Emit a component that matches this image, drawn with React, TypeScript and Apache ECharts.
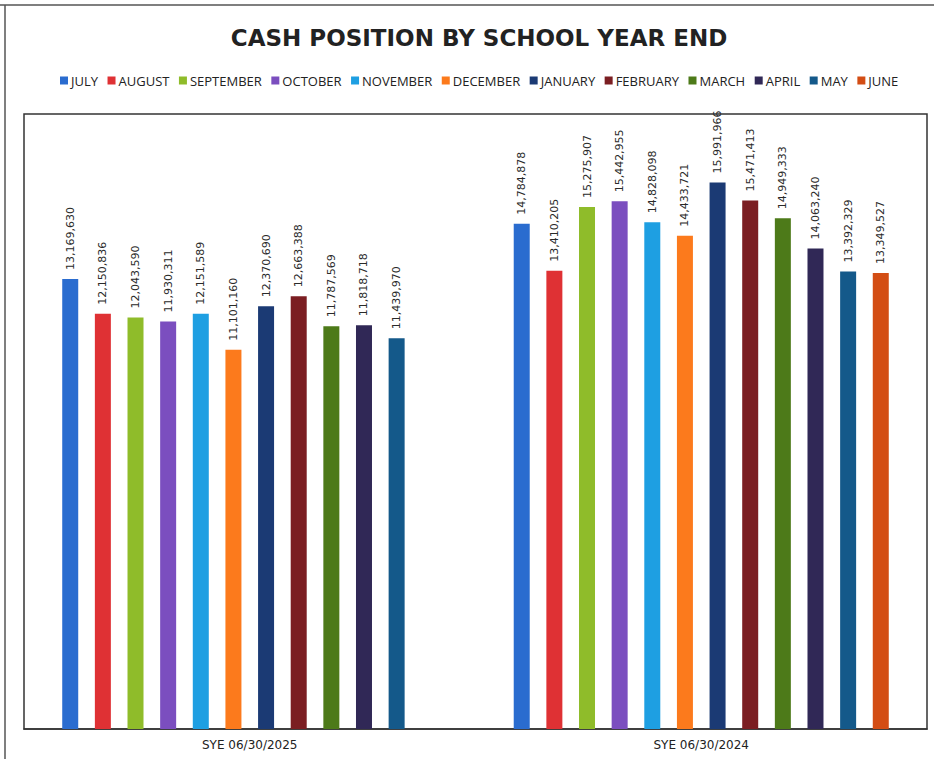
import React, { useEffect, useRef } from "react";
import * as echarts from "echarts";

const categories = ["SYE 06/30/2025", "SYE 06/30/2024"];
const months = ["JULY", "AUGUST", "SEPTEMBER", "OCTOBER", "NOVEMBER", "DECEMBER", "JANUARY", "FEBRUARY", "MARCH", "APRIL", "MAY", "JUNE"];
const colors = ["#2a6ccf", "#df3134", "#8fbc2a", "#7b4ebf", "#1e9fe2", "#fc7a1c", "#1b3a74", "#7b1e22", "#4d7a19", "#302856", "#14598a", "#d34d14"];
const values2025 = [13169630, 12150836, 12043590, 11930311, 12151589, 11101160, 12370690, 12663388, 11787569, 11818718, 11439970, null];
const values2024 = [14784878, 13410205, 15275907, 15442955, 14828098, 14433721, 15991966, 15471413, 14949333, 14063240, 13392329, 13349527];

export default function App() {
  const ref = useRef<HTMLDivElement>(null);
  useEffect(() => {
    if (!ref.current) return;
    const chart = echarts.init(ref.current, undefined, { renderer: "svg" });
    const series = months.map((m, i) => ({
      name: m,
      type: "bar",
      data: [values2025[i], values2024[i]],
      barWidth: 16,
      barGap: "104%",
      itemStyle: { color: colors[i] },
      label: {
        show: true,
        position: "top",
        rotate: 90,
        align: "left",
        verticalAlign: "middle",
        distance: 9,
        fontFamily: "DejaVu Sans",
        fontSize: 11,
        color: "#2a2a2a",
        formatter: (p: any) => (p.value == null ? "" : Number(p.value).toLocaleString("en-US")),
      },
    }));
    chart.setOption({
      animation: false,
      backgroundColor: "#ffffff",
      title: {
        text: "CASH POSITION BY SCHOOL YEAR END",
        left: 474,
        textAlign: "center",
        top: 21,
        textStyle: { fontFamily: "DejaVu Sans", fontWeight: "bold", fontSize: 23, color: "#222222" },
      },
      legend: {
        data: months,
        left: 55,
        top: 69,
        itemWidth: 8,
        itemHeight: 8,
        itemGap: 9.5,
        icon: "rect",
        textStyle: { fontFamily: "Open Sans", fontSize: 13, color: "#222222", padding: [0, 0, 0, -2] },
      },
      graphic: [
        { type: "line", shape: { x1: 0, y1: 5, x2: 934, y2: 5 }, style: { stroke: "#555555", lineWidth: 1.5 } },
        { type: "line", shape: { x1: 5, y1: 5, x2: 5, y2: 759 }, style: { stroke: "#555555", lineWidth: 1.5 } },
      ],
      grid: {
        left: 24,
        right: 7,
        top: 114,
        bottom: 30,
        show: true,
        borderColor: "#333333",
        borderWidth: 1.5,
        containLabel: false,
      },
      xAxis: {
        type: "category",
        data: categories,
        axisTick: { show: false },
        axisLine: { lineStyle: { color: "#333333", width: 1.5 } },
        axisLabel: { fontFamily: "DejaVu Sans", fontSize: 12, color: "#222222", margin: 10 },
      },
      yAxis: {
        type: "value",
        min: 0,
        max: 18000000,
        show: false,
        splitLine: { show: false },
      },
      series,
    });
    return () => chart.dispose();
  }, []);
  return <div ref={ref} style={{ position: "absolute", left: 0, top: 0, width: 934, height: 759 }} />;
}
